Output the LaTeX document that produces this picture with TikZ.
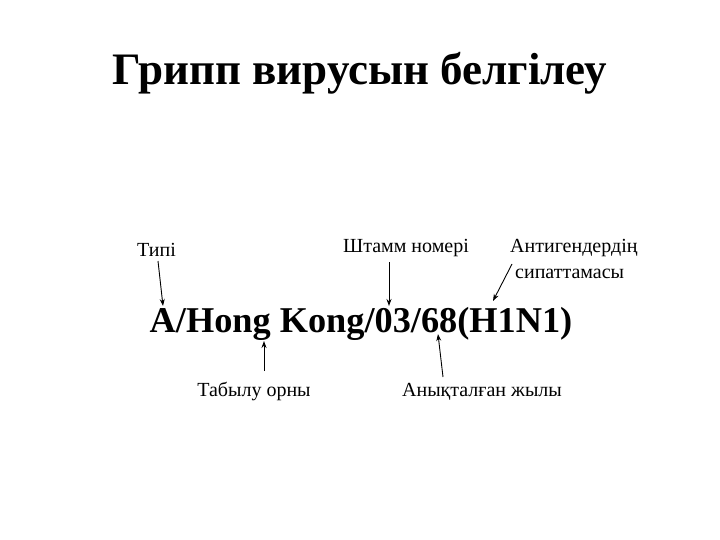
\documentclass[tikz,border=0pt]{standalone}
\usepackage{fontspec}
\setmainfont{Liberation Serif}
\usetikzlibrary{arrows.meta}
\begin{document}
\begin{tikzpicture}[x=1pt,y=-1pt,
  lbl/.style={font=\fontsize{20}{22}\selectfont, inner sep=0pt},
  arr/.style={-{Stealth[length=7pt,width=5pt]}, line width=0.9pt}]
\useasboundingbox (0,0) rectangle (720,540);
\node[font=\bfseries\fontsize{45}{50}\selectfont, inner sep=0pt] (title) at (360,73) {Грипп вирусын белгілеу};
\node[font=\bfseries\fontsize{36.3}{40}\selectfont, inner sep=0pt, anchor=base] (main) at (361,332) {A/Hong Kong/03/68(H1N1)};
\node[lbl, anchor=base west] (tipi) at (137,256) {Типі};
\node[lbl, anchor=base] (shtamm) at (406,252) {Штамм номері};
\node[lbl, anchor=base west] (antigen1) at (510,252) {Антигендердің};
\node[lbl, anchor=base west] (antigen2) at (515,278) {сипаттамасы};
\node[lbl, anchor=base] (tabylu) at (254,396) {Табылу орны};
\node[lbl, anchor=base] (anyk) at (482,396) {Анықталған жылы};
\coordinate (t0) at (158,261); \coordinate (t1) at (163,306);
\coordinate (s0) at (389,262); \coordinate (s1) at (389,306);
\coordinate (a0) at (512,264); \coordinate (a1) at (493,301);
\coordinate (b0) at (264,371); \coordinate (b1) at (264,341);
\coordinate (c0) at (443,377); \coordinate (c1) at (438,334);
\draw[arr] (t0) -- (t1);
\draw[arr] (s0) -- (s1);
\draw[arr] (a0) -- (a1);
\draw[arr] (b0) -- (b1);
\draw[arr] (c0) -- (c1);
\end{tikzpicture}
\end{document}
